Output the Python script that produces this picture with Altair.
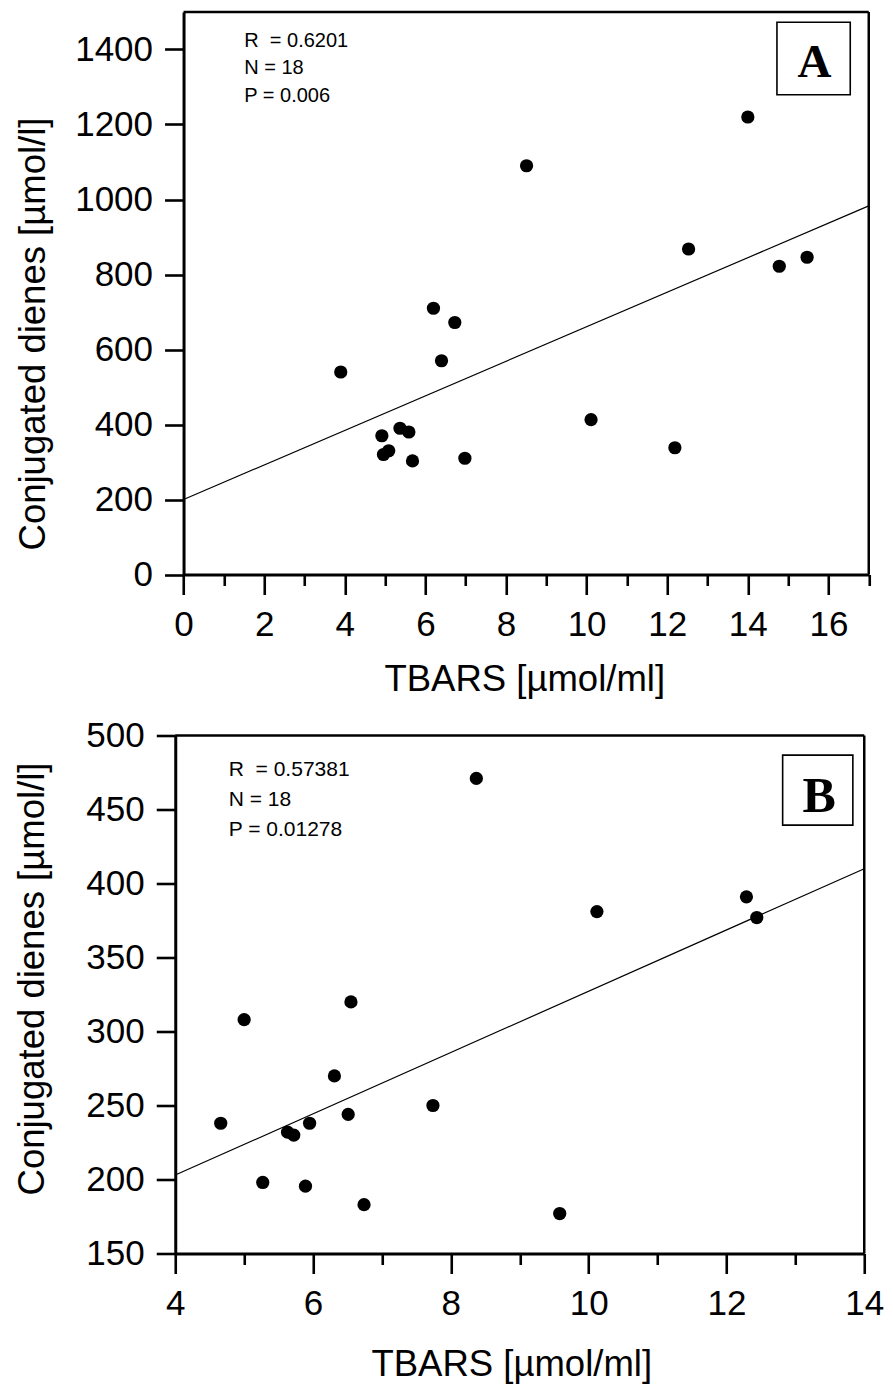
import altair as alt
import pandas as pd

# ---------------- data ----------------
tbars_a = [3.90, 6.20, 6.73, 6.40, 4.92, 5.37, 5.59, 4.96, 5.09, 5.68, 6.98,
           10.11, 12.19, 8.51, 14.00, 12.53, 14.78, 15.47]
dienes_a = [540, 710, 672, 570, 370, 390, 380, 320, 330, 303, 310,
            413, 338, 1090, 1220, 868, 822, 846]
fit_a_x = [0, 17]
fit_a_y = [200, 983]
stats_a = ["R\u00a0 = 0.6201", "N = 18", "P = 0.006"]

tbars_b = [4.66, 5.00, 5.27, 5.63, 5.72, 5.89, 5.95, 6.31, 6.51, 6.55, 6.74,
           7.74, 9.58, 8.37, 10.12, 12.29, 12.44]
dienes_b = [238, 308, 198, 232, 230, 195.5, 238, 270, 244, 320, 183,
            250, 177, 471, 381, 391, 377]
fit_b_x = [4, 14]
fit_b_y = [203, 410]
stats_b = ["R\u00a0 = 0.57381", "N = 18", "P = 0.01278"]

x_title = "TBARS [µmol/ml]"
y_title = "Conjugated dienes [µmol/l]"

FONT = "Arial, Liberation Sans, Helvetica, sans-serif"
SERIF = "Times New Roman, Liberation Serif, serif"
BORDER = 2.5
LABEL_SIZE = 35


def panel(xs, ys, fx, fy, stats, letter, xdom, ydom, xstep, ystep,
          xmaj, ymaj, w, h, x0, xtitle_pos, ytitle_pos, stats_pos, lh,
          stats_size, box, letter_pos, letter_size):
    """x0: left inset of the plot frame inside the view group (pixels)."""
    pts = pd.DataFrame({"x": xs, "y": ys})
    fit = pd.DataFrame({"x": fx, "y": fy})
    xvals = [xdom[0] + i * xstep for i in range(int(round((xdom[1] - xdom[0]) / xstep)) + 1)]
    yvals = [ydom[0] + i * ystep for i in range(int(round((ydom[1] - ydom[0]) / ystep)) + 1)]

    xtest = f"datum.value % {xmaj} === 0"
    ytest = f"datum.value % {ymaj} === 0"
    xaxis = alt.Axis(
        values=xvals, title=x_title, grid=False, format="d",
        labelExpr=f"{xtest} ? datum.label : ''",
        labelFontSize={"condition": {"test": xtest, "value": LABEL_SIZE}, "value": 1},
        tickSize={"condition": {"test": xtest, "value": 20}, "value": 11},
        labelPadding=13, labelFlush=False, labelOverlap=False,
        titleX=xtitle_pos[0], titleY=xtitle_pos[1], titleAlign="center",
        titleBaseline="alphabetic",
    )
    yaxis = alt.Axis(
        values=yvals, title=y_title, grid=False, format="d",
        labelExpr=f"{ytest} ? datum.label : ''",
        labelFontSize={"condition": {"test": ytest, "value": LABEL_SIZE}, "value": 1},
        tickSize={"condition": {"test": ytest, "value": 19}, "value": 10},
        labelPadding=12, labelFlush=False, labelOverlap=False,
        offset=-x0,
        titleX=ytitle_pos[0], titleY=ytitle_pos[1], titleAlign="center",
        titleBaseline="middle", titleAngle=270,
    )
    xs_ = alt.Scale(domain=xdom, nice=False, zero=False, range=[x0, w])
    ys_ = alt.Scale(domain=ydom, nice=False, zero=False)

    line = alt.Chart(fit).mark_line(color="black", strokeWidth=1.2, clip=True).encode(
        x=alt.X("x:Q", scale=xs_, axis=xaxis),
        y=alt.Y("y:Q", scale=ys_, axis=yaxis),
    )
    dots = alt.Chart(pts).mark_circle(color="black", opacity=1, size=175).encode(
        x=alt.X("x:Q", scale=xs_),
        y=alt.Y("y:Q", scale=ys_),
    )
    one = pd.DataFrame({"t": [0]})
    top_edge = alt.Chart(one).mark_rule(color="black", strokeWidth=BORDER).encode(
        x=alt.value(x0), x2=alt.value(w), y=alt.value(0))
    right_edge = alt.Chart(one).mark_rule(color="black", strokeWidth=BORDER).encode(
        x=alt.value(w), y=alt.value(0), y2=alt.value(h))
    stat_text = alt.Chart(one).mark_text(
        text=stats, align="left", baseline="alphabetic", font=FONT,
        fontSize=stats_size, lineHeight=lh, color="black",
    ).encode(x=alt.value(stats_pos[0]), y=alt.value(stats_pos[1]))
    boxmark = alt.Chart(one).mark_rect(
        fill="white", stroke="black", strokeWidth=1.6,
    ).encode(x=alt.value(box[0]), x2=alt.value(box[1]),
             y=alt.value(box[2]), y2=alt.value(box[3]))
    letter_text = alt.Chart(one).mark_text(
        text=letter, align="center", baseline="alphabetic", font=SERIF,
        fontWeight="bold", fontSize=letter_size, color="black",
    ).encode(x=alt.value(letter_pos[0]), y=alt.value(letter_pos[1]))

    return alt.layer(line, dots, top_edge, right_edge, stat_text, boxmark,
                     letter_text).properties(
        width=w, height=h, view=alt.ViewBackground(stroke="transparent"))


chart_a = panel(tbars_a, dienes_a, fit_a_x, fit_a_y, stats_a, "A",
                [0, 17], [0, 1500], 1, 100, 2, 200, 693.5, 562.5, 8.3,
                (349, 116), (-149.8, 321.5), (69, 34.5), 27.7, 20,
                (601.7, 675, 10.2, 82.8), (639.3, 64.5), 47)
chart_b = panel(tbars_b, dienes_b, fit_b_x, fit_b_y, stats_b, "B",
                [4, 14], [150, 500], 1, 25, 2, 50, 689, 518, 0,
                (336, 122), (-142.5, 243), (53.5, 40.5), 30, 21,
                (607.4, 677.6, 19.6, 89.6), (644, 76.3), 50)

chart = alt.vconcat(chart_a, chart_b, spacing=18.5).properties(
    padding={"left": 6.25, "top": 2, "right": 0, "bottom": 0},
    background="white",
).configure_axis(
    domainColor="black", domainWidth=3, tickColor="black", tickWidth=2.6,
    labelFont=FONT, labelFontSize=LABEL_SIZE, labelColor="black",
    titleFont=FONT, titleFontSize=36.5, titleFontWeight="normal", titleColor="black",
)

chart.save("out.html", embed_options={"renderer": "svg", "actions": False})
